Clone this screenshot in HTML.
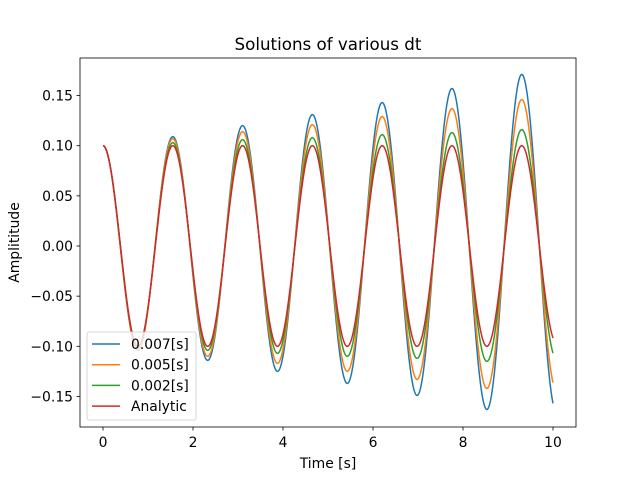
<!DOCTYPE html>
<html><head><meta charset="utf-8"><style>
body{margin:0;background:#fff;}
svg text{font-family:"DejaVu Sans","Liberation Sans",sans-serif;fill:#000;}
</style></head><body>
<svg id="chart" width="640" height="480" xmlns="http://www.w3.org/2000/svg">
<rect width="640" height="480" fill="#fff"/>
<g id="plot"></g>
</svg>
<script>
// Extremum data (extrema every half period; last entry is beyond t=10)
const halfPeriod = 0.7755;
const endTime = 10;
const seriesNames = ["0.007[s]","0.005[s]","0.002[s]","Analytic"];
const seriesColors = ["#1f77b4","#ff7f0e","#2ca02c","#d62728"];
const extBlue   = [0.100,-0.104,0.109,-0.114,0.120,-0.125,0.131,-0.137,0.143,-0.149,0.157,-0.163,0.171,-0.166];
const extOrange = [0.100,-0.103,0.107,-0.110,0.114,-0.117,0.121,-0.125,0.129,-0.133,0.137,-0.142,0.146,-0.144];
const extGreen  = [0.100,-0.101,0.103,-0.104,0.106,-0.107,0.108,-0.110,0.111,-0.112,0.113,-0.115,0.116,-0.113];
const extRed    = [0.100,-0.100,0.100,-0.100,0.100,-0.100,0.100,-0.100,0.100,-0.100,0.100,-0.100,0.100,-0.097];
const xTicks = [0,2,4,6,8,10];
const yTicks = [-0.15,-0.10,-0.05,0.00,0.05,0.10,0.15];
const yTickLabels = ["−0.15","−0.10","−0.05","0.00","0.05","0.10","0.15"];

const NS="http://www.w3.org/2000/svg";
const L=80,R=576,T=58,B=427;
const X=t=>103+t*45;
const Y=v=>246-v*1003;
const g=document.getElementById('plot');
function mk(tag,attrs,parent){const e=document.createElementNS(NS,tag);for(const k in attrs)e.setAttribute(k,attrs[k]);(parent||g).appendChild(e);return e;}

const series=[extBlue,extOrange,extGreen,extRed];
series.forEach((ext,si)=>{
  let d="";
  const n=Math.round(endTime/0.005);
  for(let i=0;i<=n;i++){
    const t=i*endTime/n;
    let k=Math.floor(t/halfPeriod); if(k>=ext.length-1)k=ext.length-2;
    const u=(t-k*halfPeriod)/halfPeriod;
    const a=ext[k],b=ext[k+1];
    const v=a+(b-a)*(1-Math.cos(Math.PI*u))/2;
    d+=(i?"L":"M")+X(t).toFixed(2)+" "+Y(v).toFixed(2);
  }
  const p=mk('path',{d:d,fill:'none',stroke:seriesColors[si],'stroke-width':1.5});
  
  
});

const frame=mk('rect',{x:L,y:T,width:R-L,height:B-T,fill:'none',stroke:'#000','stroke-width':0.8});



xTicks.forEach(v=>{
  mk('line',{x1:X(v),x2:X(v),y1:B,y2:B+3.5,stroke:'#000','stroke-width':0.8});
  const t=mk('text',{x:X(v),y:B+20,'text-anchor':'middle','font-size':13.9});
  t.textContent=v;
  
  
});
yTicks.forEach((v,i)=>{
  mk('line',{x1:L-3.5,x2:L,y1:Y(v),y2:Y(v),stroke:'#000','stroke-width':0.8});
  const t=mk('text',{x:L-7,y:Y(v)+5,'text-anchor':'end','font-size':13.9});
  t.textContent=yTickLabels[i];
  
  
});

const title=mk('text',{x:(L+R)/2,y:50,'text-anchor':'middle','font-size':16.7});
title.textContent="Solutions of various dt";


const xt=mk('text',{x:(L+R)/2,y:468,'text-anchor':'middle','font-size':13.9});
xt.textContent="Time [s]";


const yt=mk('text',{x:19,y:(T+B)/2,'text-anchor':'middle','font-size':13.9,transform:'rotate(-90 19 '+((T+B)/2)+')'});
yt.textContent="Amplititude";



const lg=mk('g',{});


mk('rect',{x:87,y:332,width:109,height:88,rx:2,fill:'#fff','fill-opacity':0.8,stroke:'#ccc','stroke-width':0.8},lg);
seriesNames.forEach((nm,i)=>{
  const y=344+i*20.7;
  const e=mk('g',{},lg);
  
  
  mk('line',{x1:92,x2:120,y1:y,y2:y,stroke:seriesColors[i],'stroke-width':1.5},e);
  const t=mk('text',{x:131,y:y+5,'font-size':13.9},e);
  t.textContent=nm;
});
</script>
</body></html>
